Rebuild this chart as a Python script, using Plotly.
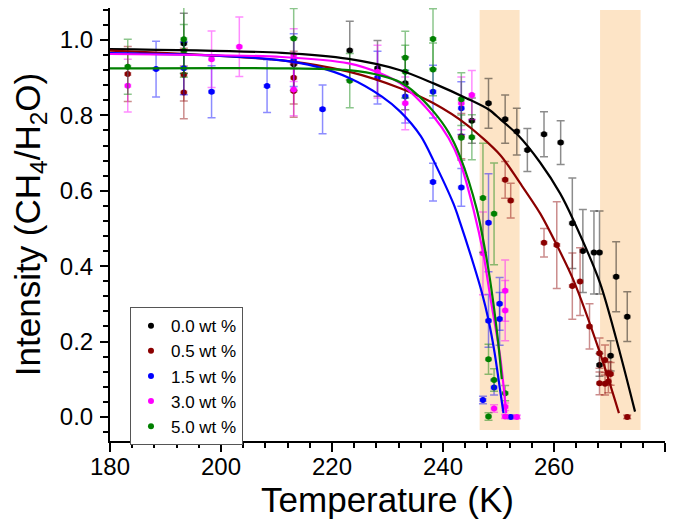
import plotly.graph_objects as go

# ---------------- data ----------------
series_names = ["0.0 wt %", "0.5 wt %", "1.5 wt %", "3.0 wt %", "5.0 wt %"]
series_colors = ["#000000", "#8B0000", "#0000FF", "#FF00FF", "#008000"]
bar_colors = ["rgba(0,0,0,0.45)", "rgba(139,0,0,0.45)", "rgba(0,0,255,0.45)",
              "rgba(255,0,255,0.45)", "rgba(0,128,0,0.45)"]

t_00 = [193.3, 213.1, 223.2, 228.2, 233.2, 245.2, 248.2, 251.2, 253.3, 255.2,
        258.2, 261.2, 263.3, 265.2, 267.2, 268.2, 268.2, 270.2, 271.2, 273.2]
i_00 = [0.991, 0.936, 0.972, 0.925, 0.885, 0.786, 0.832, 0.790, 0.757, 0.708,
        0.750, 0.728, 0.514, 0.440, 0.436, 0.436, 0.138, 0.162, 0.372, 0.266]
e_00 = [0.080, 0.070, 0.078, 0.074, 0.070, 0.060, 0.066, 0.064, 0.062, 0.057,
        0.060, 0.058, 0.120, 0.110, 0.110, 0.110, 0.030, 0.040, 0.093, 0.066]

t_05 = [183.2, 193.3, 193.3, 213.1, 213.1, 243.3, 251.2, 252.2, 258.2, 260.5,
        263.3, 264.7, 266.4, 268.2, 268.2, 269.2, 269.2, 269.8, 269.8, 270.2, 273.2]
i_05 = [0.910, 0.908, 0.861, 0.900, 0.865, 0.745, 0.629, 0.574, 0.462, 0.456,
        0.347, 0.359, 0.240, 0.169, 0.089, 0.151, 0.088, 0.116, 0.094, 0.114, 0.000]
e_05 = [0.073, 0.070, 0.070, 0.070, 0.070, 0.060, 0.049, 0.046, 0.038, 0.115,
        0.088, 0.090, 0.060, 0.040, 0.030, 0.040, 0.030, 0.030, 0.030, 0.030, 0.005]

t_15 = [188.3, 193.3, 198.3, 208.3, 213.1, 218.3, 228.2, 233.2, 238.2, 238.2,
        243.3, 243.3, 248.2, 248.2, 247.2, 249.2, 250.2, 250.2, 252.2]
i_15 = [0.923, 0.925, 0.863, 0.878, 0.947, 0.816, 0.900, 0.850, 0.863, 0.623,
        0.819, 0.609, 0.515, 0.255, 0.045, 0.078, 0.300, 0.260, 0.000]
e_15 = [0.074, 0.070, 0.069, 0.070, 0.070, 0.065, 0.070, 0.070, 0.070, 0.050,
        0.070, 0.050, 0.130, 0.070, 0.010, 0.020, 0.070, 0.070, 0.005]

t_30 = [183.2, 198.3, 203.3, 213.1, 213.1, 228.2, 233.2, 243.3, 245.2, 247.2,
        249.2, 251.2, 251.2, 251.2, 251.2, 253.3]
i_30 = [0.879, 0.949, 0.982, 0.960, 0.869, 0.916, 0.832, 0.832, 0.854, 0.434,
        0.022, 0.335, 0.282, 0.027, 0.001, 0.000]
e_30 = [0.070, 0.075, 0.079, 0.070, 0.070, 0.070, 0.070, 0.070, 0.065, 0.110,
        0.010, 0.081, 0.080, 0.010, 0.005, 0.005]

t_50 = [183.2, 193.3, 193.3, 213.1, 223.2, 233.2, 233.2, 238.2, 238.2, 243.3,
        243.3, 245.2, 247.2, 248.2, 248.2, 249.2, 249.2, 251.2]
i_50 = [0.929, 1.002, 0.971, 1.004, 0.892, 0.953, 0.916, 1.003, 0.922, 0.843,
        0.741, 0.742, 0.581, 0.153, 0.001, 0.539, 0.098, 0.063]
e_50 = [0.073, 0.090, 0.070, 0.080, 0.072, 0.070, 0.070, 0.080, 0.070, 0.070,
        0.060, 0.060, 0.145, 0.040, 0.010, 0.135, 0.030, 0.020]

temp_err = 0.5  # horizontal (temperature) uncertainty, K

# fit curves
fit_t_00 = [180, 211, 223, 232.3, 238.3, 244.3, 248.3, 250.3, 253.5, 257.5, 261.1, 263.5, 268.3, 271.9, 274.6]
fit_i_00 = [0.976, 0.966, 0.950, 0.920, 0.885, 0.845, 0.815, 0.790, 0.748, 0.675, 0.593, 0.522, 0.355, 0.169, 0.014]
fit_t_05 = [180, 211, 223, 232.3, 238.3, 244.3, 250.3, 253.9, 257.5, 260.5, 263.5, 268.3, 271.7]
fit_i_05 = [0.972, 0.946, 0.916, 0.872, 0.832, 0.775, 0.695, 0.620, 0.540, 0.456, 0.363, 0.169, 0.010]
fit_t_15 = [180, 200, 211, 217, 223, 229, 232.3, 236, 238.3, 241.9, 243.1, 245.5, 247, 248.2, 249.3, 250.3, 250.9]
fit_i_15 = [0.965, 0.958, 0.946, 0.930, 0.900, 0.850, 0.810, 0.745, 0.680, 0.565, 0.515, 0.405, 0.330, 0.257, 0.170, 0.070, 0.010]
fit_t_30 = [180, 211, 223, 229, 232.3, 235, 238.3, 241, 243.1, 245.5, 247.3, 248.5, 250.3, 251.4]
fit_i_30 = [0.963, 0.955, 0.938, 0.910, 0.885, 0.850, 0.797, 0.740, 0.675, 0.550, 0.430, 0.320, 0.160, 0.010]
fit_t_50 = [180, 211, 223, 229, 232.3, 235, 238.3, 241, 243.1, 246.1, 247.9, 249.0, 250.0, 250.6]
fit_i_50 = [0.925, 0.925, 0.920, 0.905, 0.888, 0.860, 0.810, 0.755, 0.690, 0.550, 0.416, 0.310, 0.190, 0.100]

bands = [(246.6, 253.8), (268.3, 275.6)]
band_y = (-0.035, 1.08)

x_ticks = [180, 200, 220, 240, 260, 280]
y_ticks = [0.0, 0.2, 0.4, 0.6, 0.8, 1.0]

# ---------------- figure ----------------
fig = go.Figure()

fits = [(fit_t_00, fit_i_00), (fit_t_05, fit_i_05), (fit_t_15, fit_i_15),
        (fit_t_30, fit_i_30), (fit_t_50, fit_i_50)]
pts = [(t_00, i_00, e_00), (t_05, i_05, e_05), (t_15, i_15, e_15),
       (t_30, i_30, e_30), (t_50, i_50, e_50)]

for k in range(5):
    t, i, e = pts[k]
    fig.add_trace(go.Scatter(
        x=t, y=i, mode="markers", name=series_names[k],
        marker=dict(color=series_colors[k], size=6),
        error_y=dict(type="data", array=e, visible=True, color=bar_colors[k],
                     thickness=1.5, width=4),
        error_x=dict(type="constant", value=temp_err, visible=True,
                     color=bar_colors[k], thickness=1.5, width=2),
        showlegend=True,
    ))

for k in range(5):
    ft, fi = fits[k]
    fig.add_trace(go.Scatter(
        x=ft, y=fi, mode="lines", line=dict(color=series_colors[k], width=2.2,
                                             shape="spline", smoothing=0.8),
        showlegend=False, hoverinfo="skip",
    ))

for x0, x1 in bands:
    fig.add_shape(type="rect", x0=x0, x1=x1, y0=band_y[0], y1=band_y[1],
                  xref="x", yref="y", fillcolor="#FDE4C6", line=dict(width=0),
                  layer="below")

font_family = "Arial, Liberation Sans, sans-serif"
# the page body has an 8px margin, so the figure is drawn 8px smaller and shifted
fig.update_layout(
    width=677, height=517,
    margin=dict(l=102, r=20, t=0, b=84),
    paper_bgcolor="white", plot_bgcolor="white",
    font=dict(family=font_family, color="black"),
    legend=dict(x=0.036, y=0.309, xanchor="left", yanchor="top",
                bgcolor="white", bordercolor="#555555", borderwidth=1,
                font=dict(size=17, family=font_family),
                tracegroupgap=0),
    xaxis=dict(range=[180, 280], tickvals=x_ticks, showline=True, linecolor="black",
               linewidth=2, ticks="outside", ticklen=9, tickwidth=2, tickcolor="black",
               showgrid=False, zeroline=False, tickfont=dict(size=24), automargin=False,
               ticklabelstandoff=-6,
               minor=dict(dtick=4, ticks="outside", ticklen=5, tickwidth=1.5, tickcolor="black"),
               title=dict(text="Temperature (K)", font=dict(size=35), standoff=4)),
    yaxis=dict(range=[-0.064, 1.085], tickvals=y_ticks, tickformat=".1f", showline=True,
               linecolor="black", linewidth=2, ticks="outside", ticklen=8, tickwidth=2,
               tickcolor="black", showgrid=False, zeroline=False, tickfont=dict(size=24),
               automargin=False, ticklabelstandoff=2,
               minor=dict(dtick=0.04, tick0=0, ticks="outside", ticklen=5, tickwidth=1.5, tickcolor="black"),
               title=dict(text="Intensity (CH<sub>4</sub>/H<sub>2</sub>O)", font=dict(size=35), standoff=16)),
)

fig.write_html("out.html")
